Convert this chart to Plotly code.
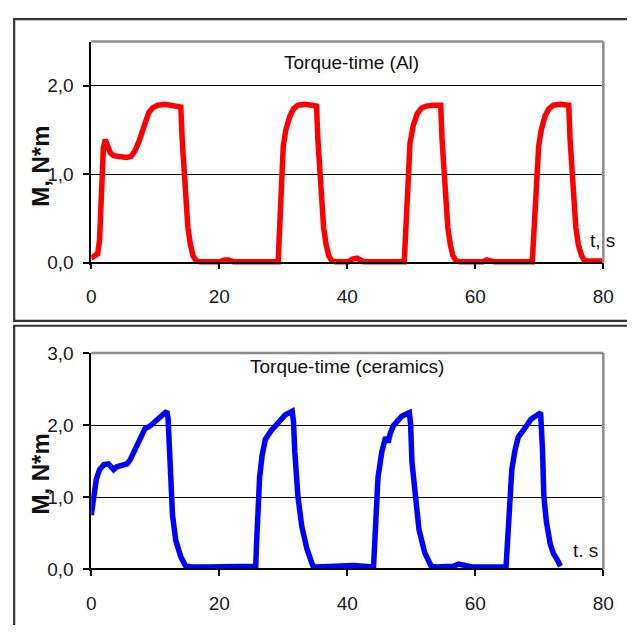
import plotly.graph_objects as go

# ---- data ----
t_al = [0.0, 0.6, 1.0, 1.3, 1.6, 1.9, 2.2, 2.5, 3.0, 3.5, 4.5, 5.5, 6.2, 6.8, 7.4, 8.0, 8.5, 9.0, 9.6, 10.4,
        11.5, 12.5, 13.5, 14.0, 14.2, 14.5, 14.8, 15.1, 15.5, 15.9, 16.4, 17.0, 20.0, 20.8, 21.5, 22.2,
        29.2, 29.4, 29.7, 30.0, 30.4, 31.0, 31.6, 32.3, 33.5, 34.5, 35.2, 35.4, 35.7, 36.0, 36.3, 36.7,
        37.1, 37.6, 38.2, 40.2, 40.8, 41.5, 42.1, 42.6,
        48.9, 49.1, 49.4, 49.8, 50.3, 50.9, 51.6, 52.3, 53.5, 54.6, 54.8, 55.1, 55.4, 55.7, 56.1, 56.5,
        57.0, 57.6, 61.2, 61.8, 62.4, 63.0,
        68.9, 69.1, 69.5, 69.9, 70.3, 70.9, 71.5, 72.2, 73.3, 74.6, 74.8, 75.1, 75.4, 75.7, 76.1, 76.6,
        77.1, 77.7, 80.0]
m_al = [0.05, 0.07, 0.10, 0.25, 0.90, 1.30, 1.39, 1.32, 1.24, 1.21, 1.20, 1.19, 1.20, 1.26, 1.36, 1.50, 1.62, 1.70, 1.75, 1.78,
        1.79, 1.78, 1.78, 1.76, 1.40, 1.00, 0.65, 0.40, 0.20, 0.08, 0.02, 0.01, 0.01, 0.03, 0.03, 0.01,
        0.01, 0.30, 1.00, 1.32, 1.50, 1.65, 1.74, 1.78, 1.79, 1.78, 1.77, 1.40, 1.00, 0.65, 0.40, 0.20,
        0.08, 0.02, 0.01, 0.01, 0.04, 0.05, 0.02, 0.01,
        0.01, 0.30, 1.00, 1.35, 1.55, 1.68, 1.75, 1.77, 1.78, 1.78, 1.40, 1.00, 0.65, 0.40, 0.20, 0.08,
        0.02, 0.01, 0.01, 0.03, 0.02, 0.01,
        0.01, 0.30, 1.00, 1.32, 1.50, 1.66, 1.74, 1.78, 1.79, 1.78, 1.40, 1.00, 0.65, 0.40, 0.20, 0.08,
        0.02, 0.02, 0.02]

t_cer = [0.0, 0.2, 0.4, 0.8, 1.3, 2.0, 2.7, 3.1, 3.5, 4.0, 4.8, 5.6, 6.1, 6.8, 7.6, 8.4, 9.1, 9.9, 10.9, 11.8,
         12.0, 12.2, 12.4, 12.7, 13.2, 14.0, 14.7, 15.5, 18.0, 21.0, 23.0, 25.7,
         25.8, 26.0, 26.3, 26.7, 27.2, 28.1, 29.1, 30.3, 31.4, 31.6, 31.8, 32.3, 32.9, 33.7, 34.6, 35.2,
         38.0, 41.0, 44.1,
         44.3, 44.5, 44.8, 45.4, 46.0, 46.4, 46.7, 47.2, 48.5, 49.7, 49.9, 50.1, 50.6, 51.2, 52.1, 53.1,
         54.0, 56.5, 57.4, 58.2, 59.5, 64.8,
         65.0, 65.2, 65.7, 66.2, 66.7, 67.7, 68.7, 70.2, 70.35, 70.5, 70.7, 71.1, 71.7, 72.2, 72.8, 73.3]
m_cer = [0.75, 0.85, 1.05, 1.25, 1.38, 1.45, 1.46, 1.42, 1.38, 1.42, 1.45, 1.46, 1.52, 1.65, 1.82, 1.95, 1.98, 2.05, 2.12, 2.19,
         2.10, 1.74, 1.20, 0.75, 0.40, 0.17, 0.05, 0.03, 0.03, 0.04, 0.05, 0.04,
         0.30, 0.82, 1.27, 1.58, 1.80, 1.92, 2.03, 2.14, 2.19, 2.05, 1.63, 1.00, 0.59, 0.28, 0.05, 0.03,
         0.04, 0.05, 0.03,
         0.35, 0.82, 1.27, 1.63, 1.83, 1.76, 1.88, 1.99, 2.12, 2.17, 2.00, 1.49, 1.00, 0.55, 0.23, 0.04,
         0.03, 0.04, 0.07, 0.05, 0.03, 0.03,
         0.40, 0.84, 1.38, 1.65, 1.83, 1.95, 2.08, 2.17, 2.00, 1.65, 1.02, 0.66, 0.35, 0.22, 0.13, 0.04]

x_ticks = [0, 20, 40, 60, 80]
y_ticks_al = [0, 1, 2]
y_ticks_cer = [0, 1, 2, 3]
titles = ["Torque-time (Al)", "Torque-time (ceramics)"]
y_title = "M, N*m"
x_titles = ["t, s", "t. s"]

# The page body keeps its default 8px margin, so the figure is sized to fit
# the 635x633 window exactly and page coordinates are offset by 8px.
PAGE_W, PAGE_H, OFF = 635, 633, 8
W, H = PAGE_W - 2 * OFF, PAGE_H - 2 * OFF
FONT = "Liberation Sans, Arial, sans-serif"
LOW = 0.03  # small negative margin so the thick trace at zero is not clipped

def px(x):
    return (x - OFF) / W

def py(y):
    return 1 - (y - OFF) / H

fig = go.Figure()
fig.add_trace(go.Scatter(x=t_al, y=m_al, mode="lines", line=dict(color="#ff0000", width=5.5),
                         xaxis="x", yaxis="y", showlegend=False))
fig.add_trace(go.Scatter(x=t_cer, y=m_cer, mode="lines", line=dict(color="#0000ff", width=5.5),
                         xaxis="x2", yaxis="y2", showlegend=False))

xdom = [px(88.3), px(614)]
# panel pixel geometry in the page: (y of value 0, y of top value, top value)
top0, top_top, top_max = 260.0, 32.3, 2.5
bot0, bot_top, bot_max = 575.7, 353.0, 3.0
k1 = (top0 - top_top) / top_max
k2 = (bot0 - bot_top) / bot_max
ydom1 = [py(top0 + LOW * k1), py(top_top)]
ydom2 = [py(bot0 + LOW * k2), py(bot_top)]

tickfont = dict(family=FONT, size=19, color="#1a1a1a")

def xaxis_cfg(ypix):
    return dict(domain=xdom, range=[0, 80], tickvals=x_ticks, ticks="outside", ticklen=6,
                tickcolor="black", tickwidth=1.5, showline=True, linecolor="black", linewidth=1.5,
                showgrid=False, zeroline=False, anchor="free", position=py(ypix), tickfont=tickfont,
                ticklabelstandoff=11, fixedrange=True)

def yaxis_cfg(anchor, dom, top, tv):
    return dict(domain=dom, range=[-LOW, top], tickvals=tv, tickformat=".1f", ticks="outside", ticklen=6,
                tickcolor="black", tickwidth=1.5, showline=True, linecolor="black", linewidth=1.5,
                showgrid=True, gridcolor="black", gridwidth=1.2, zeroline=False, anchor=anchor,
                tickfont=tickfont, ticklabelstandoff=6, fixedrange=True)

fig.update_layout(
    width=W, height=H, margin=dict(l=0, r=0, t=0, b=0), autosize=False,
    paper_bgcolor="white", plot_bgcolor="white", separators=", ",
    xaxis=xaxis_cfg(top0), yaxis=yaxis_cfg("x", ydom1, top_max, y_ticks_al),
    xaxis2=xaxis_cfg(bot0), yaxis2=yaxis_cfg("x2", ydom2, bot_max, y_ticks_cer),
)

shapes = []
# outer frames
shapes.append(dict(type="rect", xref="paper", yref="paper", x0=1.2 / W, x1=px(650), y0=py(320), y1=1 - 1.2 / H,
                   line=dict(color="#333333", width=2.2), layer="above"))
shapes.append(dict(type="rect", xref="paper", yref="paper", x0=1.2 / W, x1=px(650), y0=py(660), y1=py(325),
                   line=dict(color="#333333", width=2.2), layer="above"))
# grey top/right plot-area borders
for ytop, y0 in ((top_top, top0), (bot_top, bot0)):
    shapes.append(dict(type="line", xref="paper", yref="paper", x0=xdom[0], x1=xdom[1], y0=py(ytop), y1=py(ytop),
                       line=dict(color="#8c8c8c", width=2.5), layer="above"))
    shapes.append(dict(type="line", xref="paper", yref="paper", x0=xdom[1], x1=xdom[1], y0=py(y0), y1=py(ytop),
                       line=dict(color="#8c8c8c", width=2.5), layer="above"))
fig.update_layout(shapes=shapes)

ann = []
ann.append(dict(text=titles[0], xref="paper", yref="paper", x=px(355), y=py(54), showarrow=False,
                font=dict(family=FONT, size=19, color="#111"), xanchor="center", yanchor="middle"))
ann.append(dict(text=titles[1], xref="paper", yref="paper", x=px(351), y=py(367), showarrow=False,
                font=dict(family=FONT, size=19, color="#111"), xanchor="center", yanchor="middle"))
ann.append(dict(text="<b>" + y_title + "</b>", xref="paper", yref="paper", x=px(36), y=py(161), showarrow=False,
                textangle=-90, font=dict(family=FONT, size=24, color="#111"), xanchor="center", yanchor="middle"))
ann.append(dict(text="<b>" + y_title + "</b>", xref="paper", yref="paper", x=px(36), y=py(478), showarrow=False,
                textangle=-90, font=dict(family=FONT, size=24, color="#111"), xanchor="center", yanchor="middle"))
ann.append(dict(text=x_titles[0], xref="paper", yref="paper", x=px(628), y=py(237), showarrow=False,
                font=dict(family=FONT, size=19, color="#111"), xanchor="right", yanchor="middle"))
ann.append(dict(text=x_titles[1], xref="paper", yref="paper", x=px(611), y=py(556), showarrow=False,
                font=dict(family=FONT, size=19, color="#111"), xanchor="right", yanchor="middle"))
fig.update_layout(annotations=ann)

fig.write_html("out.html", config={"responsive": False, "displayModeBar": False})
